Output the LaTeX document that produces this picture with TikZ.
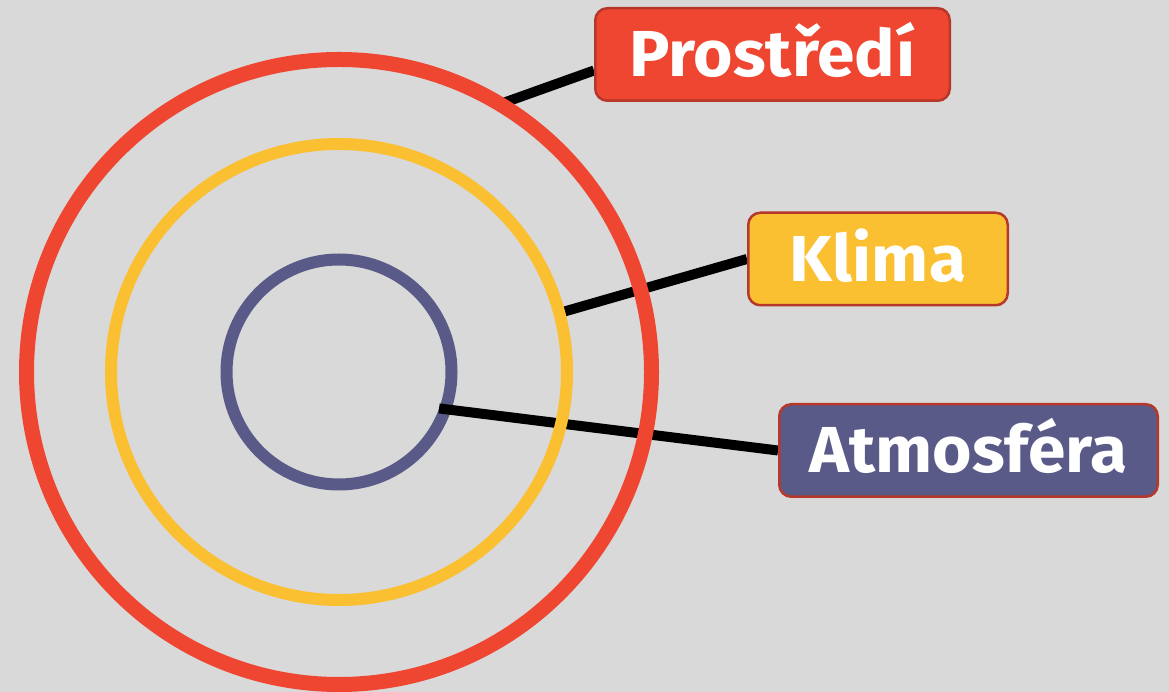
\documentclass[tikz,border=0pt]{standalone}
\usepackage{fontspec}
\setmainfont{Fira Sans}
\newfontfamily\tagfont{Fira Sans}[FakeStretch=1.04]

\definecolor{bggray}{HTML}{D9D9D9}
\definecolor{envred}{HTML}{EF4631}
\definecolor{climyellow}{HTML}{FBBF32}
\definecolor{atmoblue}{HTML}{5A5A88}
\definecolor{tagborder}{HTML}{B5382A}

\pgfdeclarelayer{back}
\pgfdeclarelayer{links}
\pgfsetlayers{back,links,main}

\begin{document}
\begin{tikzpicture}[x=1pt, y=1pt,
every node/.style={inner sep=0pt},
ring/.style={circle, outer sep=0pt},
tag/.style={rectangle, rounded corners=12pt, draw=tagborder, line width=2.5pt,
    text=white, font=\tagfont\fontsize{65}{70}\selectfont\bfseries,
    text height=45pt, text depth=0pt, minimum height=92.5pt},
link/.style={line width=10pt, draw=black}
]
\useasboundingbox (0,0) rectangle (1169,692);

\begin{pgfonlayer}{back}
\fill[bggray] (0,0) rectangle (1169,692);
\node[ring, draw=atmoblue, line width=12pt, minimum size=225pt] (atmo-ring) at (339,320) {};
\end{pgfonlayer}
\node[ring, draw=climyellow, line width=12pt, minimum size=456pt] (clim-ring) at (atmo-ring.center) {};
\node[ring, draw=envred, line width=15pt, minimum size=625pt] (env-ring) at (atmo-ring.center) {};

% labels
\node[tag, fill=envred, minimum width=354.5pt] (env) at (772.5,637.5) {Prostředí};
\node[tag, fill=climyellow, minimum width=259.5pt] (clim) at (878,433) {Klima};
\node[tag, fill=atmoblue, minimum width=378.5pt] (atmo) at (968.5,241.5) {Atmosféra};

\coordinate (atmo-in) at ([shift={(-20:106.5)}]atmo-ring.center);

\begin{pgfonlayer}{links}
\draw[link] (env-ring.59) -- ([yshift=-16pt]env.west);
\draw[link] (clim-ring.15.7) -- (clim.west);
\draw[link] (atmo-in) -- (atmo.west);
\end{pgfonlayer}

\end{tikzpicture}
\end{document}
